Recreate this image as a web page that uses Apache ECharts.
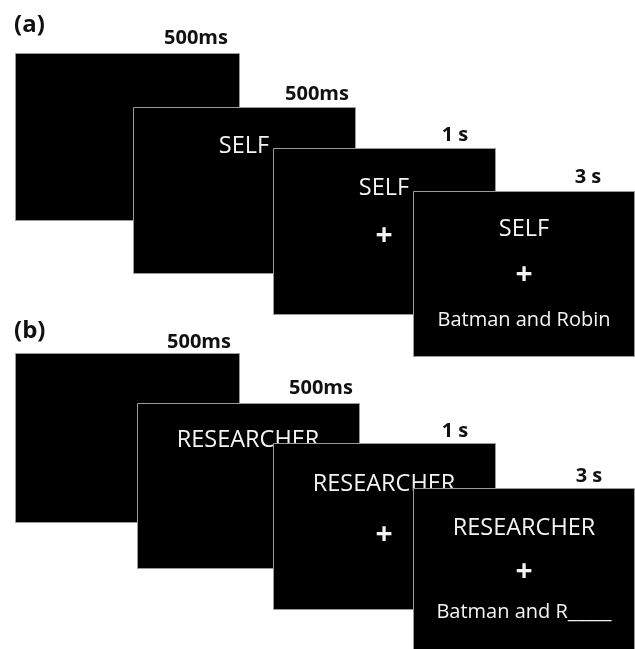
<!DOCTYPE html>
<html>
<head>
<meta charset="utf-8">
<script src="https://cdn.jsdelivr.net/npm/echarts@6/dist/echarts.min.js"></script>
<style>
  html, body { margin: 0; padding: 0; background: #fff; }
  #chart { width: 635px; height: 649px; }
</style>
</head>
<body>
<div id="chart"></div>
<script>
// screens: [id, left, top, right, bottom] in picture units
const screens = [
  ['a1', 15, 53, 239, 220],
  ['a2', 133, 107, 355, 273],
  ['a3', 273, 148, 495, 314],
  ['a4', 413, 191, 634, 356],
  ['b1', 15, 353, 239, 522],
  ['b2', 137, 403, 359, 568],
  ['b3', 273, 443, 495, 609],
  ['b4', 413, 488, 634, 660]
];

// words shown on each screen: [screen id, text, x, y]
const screenWords = [
  ['a2', 'SELF', 244, 146],
  ['a3', 'SELF', 384, 188],
  ['a3', '+', 384, 236],
  ['a4', 'SELF', 524, 229],
  ['a4', '+', 524, 275],
  ['a4', 'Batman and Robin', 524, 320],
  ['b2', 'RESEARCHER', 248, 440],
  ['b3', 'RESEARCHER', 384, 484],
  ['b3', '+', 384, 535],
  ['b4', 'RESEARCHER', 524, 528],
  ['b4', '+', 524, 572],
  ['b4', 'Batman and R_____', 524, 612]
];

// durations above each screen: [text, x, y]
const durations = [
  ['500ms', 196, 38],
  ['500ms', 317, 94],
  ['1 s', 455, 135],
  ['3 s', 588, 177],
  ['500ms', 199, 342],
  ['500ms', 321, 388],
  ['1 s', 455, 431],
  ['3 s', 589, 476]
];

// panel letters: [text, x, y]
const panels = [
  ['(a)', 14, 25],
  ['(b)', 14, 331]
];

const font = '"Open Sans", "Liberation Sans", sans-serif';

const chart = echarts.init(document.getElementById('chart'));

function wordStyle(text) {
  if (text === '+') return { fontSize: 30, fontWeight: 'bold' };
  if (text.indexOf('Batman') === 0) return { fontSize: 20, fontWeight: 'normal' };
  return { fontSize: 23.5, fontWeight: 'normal' };
}

const option = {
  animation: false,
  grid: { left: 0, right: 0, top: 0, bottom: 0 },
  xAxis: { type: 'value', min: 0, max: 635, show: false },
  yAxis: { type: 'value', min: 0, max: 649, inverse: true, show: false },
  series: [
    {
      type: 'custom',
      data: screens.map(s => [s[1], s[2], s[3], s[4]]),
      renderItem: function (params, api) {
        const id = screens[params.dataIndex][0];
        const p0 = api.coord([api.value(0), api.value(1)]);
        const p1 = api.coord([api.value(2), api.value(3)]);
        const children = [{
          type: 'rect',
          shape: {
            x: Math.round(p0[0]) + 0.5,
            y: Math.round(p0[1]) + 0.5,
            width: Math.round(p1[0] - p0[0]),
            height: Math.round(p1[1] - p0[1])
          },
          style: { fill: '#000', stroke: '#9a9a9a', lineWidth: 1 }
        }];
        screenWords.filter(w => w[0] === id).forEach(w => {
          const p = api.coord([w[2], w[3]]);
          const st = wordStyle(w[1]);
          children.push({
            type: 'text',
            style: {
              text: w[1],
              x: p[0],
              y: p[1],
              fill: '#f4f4f4',
              fontSize: st.fontSize,
              fontWeight: st.fontWeight,
              fontFamily: font,
              align: 'center',
              verticalAlign: 'middle'
            }
          });
        });
        return { type: 'group', children: children };
      }
    },
    {
      type: 'custom',
      data: durations.map(d => [d[1], d[2]]),
      renderItem: function (params, api) {
        const p = api.coord([api.value(0), api.value(1)]);
        return {
          type: 'text',
          style: {
            text: durations[params.dataIndex][0],
            x: p[0],
            y: p[1],
            fill: '#111',
            fontSize: 20,
            fontWeight: 'bold',
            fontFamily: font,
            align: 'center',
            verticalAlign: 'middle'
          }
        };
      }
    },
    {
      type: 'custom',
      data: panels.map(d => [d[1], d[2]]),
      renderItem: function (params, api) {
        const p = api.coord([api.value(0), api.value(1)]);
        return {
          type: 'text',
          style: {
            text: panels[params.dataIndex][0],
            x: p[0],
            y: p[1],
            fill: '#111',
            fontSize: 24,
            fontWeight: 'bold',
            fontFamily: font,
            align: 'left',
            verticalAlign: 'middle'
          }
        };
      }
    }
  ]
};

chart.setOption(option);
</script>
</body>
</html>
